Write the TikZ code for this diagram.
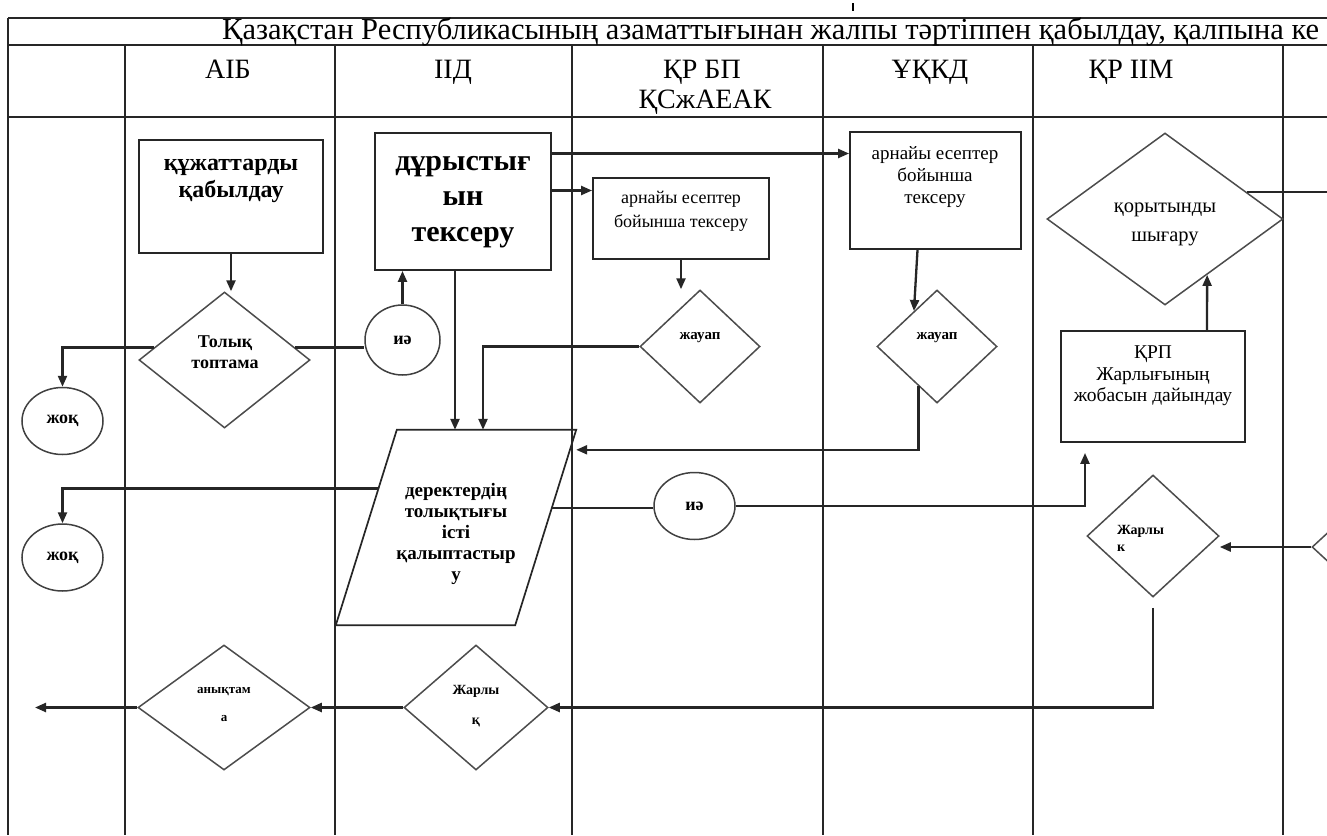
\documentclass[tikz,border=0pt]{standalone}
\usepackage{fontspec}
\setmainfont{Liberation Serif}
\usetikzlibrary{shapes.geometric,arrows.meta,calc}

\begin{document}
\begin{tikzpicture}[
    x=1pt, y=-1pt, >={Triangle[length=11pt,width=9pt]},
    every node/.style={align=center, inner sep=0pt},
    grid/.style={line width=1.8pt, black!85},
    link/.style={line width=2.3pt, black!85},
    box/.style={draw=black!85, line width=1.9pt, rectangle},
    dia/.style={draw=black!70, line width=1.5pt, diamond},
    oval/.style={draw=black!75, line width=1.5pt, ellipse},
    para/.style={draw=black!85, line width=1.7pt, line join=miter},
    head/.style={font=\fontsize{28}{30}\selectfont},
    tdocs/.style={font=\bfseries\fontsize{24}{27}\selectfont},
    tchk/.style={font=\bfseries\fontsize{30}{35.5}\selectfont},
    tnorm/.style={font=\fontsize{18}{24}\selectfont},
    tbold/.style={font=\bfseries\fontsize{18}{21}\selectfont},
    tsmall/.style={font=\bfseries\fontsize{14}{17}\selectfont}
]
\useasboundingbox (0,0) rectangle (1327,835);
\fill[white] (0,0) rectangle (1327,835);
\clip (0,0) rectangle (1327,835);

% table
\draw[grid] (8,18) -- (1327,18) (8,45) -- (1327,45) (8,117) -- (1327,117);
\draw[grid] (8,18) -- (8,835);
\foreach \x in {125,335,572,823,1033,1283}
    \draw[grid] (\x,45) -- (\x,835);
\draw[line width=2.5pt] (853,3) -- (853,11);

\node[head, font=\fontsize{30.5}{32}\selectfont, anchor=base west] (title) at (222,39)
    {Қазақстан Республикасының азаматтығынан жалпы тәртіппен қабылдау, қалпына ке};
\node[head, anchor=base] (hAIB) at (228,78) {АІБ};
\node[head, anchor=base] (hIID) at (453,78) {ІІД};
\node[head, anchor=base] (hBP) at (702,78) {ҚР БП};
\node[head, anchor=base] (hBP2) at (705,108) {ҚСжАЕАК};
\node[head, anchor=base] (hUKD) at (930,78) {ҰҚКД};
\node[head, anchor=base] (hIIM) at (1131,78) {ҚР ІІМ};

% shapes
\node[box, minimum width=184, minimum height=113] (docs) at (231,196.5) {};
\node[tdocs] (docsT) at (231,181) {құжаттарды\\қабылдау};
\node[box, minimum width=176, minimum height=137] (chk) at (463,201.5) {};
\node[tchk] (chkT) at (463,202) {дұрыстығ\\ын\\тексеру};
\node[box, minimum width=176, minimum height=81] (bp) at (681,218.5) {};
\node[tnorm] (bpT) at (681,211) {арнайы есептер\\бойынша тексеру};
\node[box, minimum width=171, minimum height=117] (uk) at (935.5,190.5) {};
\node[tnorm, font=\fontsize{19}{22}\selectfont] (ukT) at (935,177)
    {арнайы есептер\\бойынша\\тексеру};
\node[dia, minimum width=236, minimum height=172] (res) at (1165,219) {};
\node[tnorm, font=\fontsize{20.5}{29}\selectfont] (resT) at (1165,224) {қорытынды\\шығару};
\node[box, minimum width=184, minimum height=111] (krp) at (1153,386.5) {};
\node[tnorm, font=\fontsize{19.5}{21.5}\selectfont] (krpT) at (1153,376)
    {ҚРП\\Жарлығының\\жобасын дайындау};

\node[dia, minimum width=171, minimum height=136] (tol) at (224.5,360) {};
\node[tbold] (tolT) at (225,352) {Толық\\топтама};
\node[oval, minimum width=75, minimum height=70, tbold] (yes1) at (402.5,340) {иә};
\node[oval, minimum width=81, minimum height=67, tbold] (no1) at (62.5,421) {жоқ};
\node[oval, minimum width=81, minimum height=67, tbold] (no2) at (62.5,557.5) {жоқ};
\node[dia, minimum width=120, minimum height=113] (ans1) at (700,346.5) {};
\node[tbold, font=\bfseries\fontsize{15}{18}\selectfont] (ans1T) at (700,338) {жауап};
\node[dia, minimum width=120, minimum height=113] (ans2) at (937,346.5) {};
\node[tbold, font=\bfseries\fontsize{15}{18}\selectfont] (ans2T) at (937,338) {жауап};

\node[minimum width=240, minimum height=195] (der) at (456,527.5) {};
\coordinate (derTL) at ([xshift=61]der.north west);
\coordinate (derBR) at ([xshift=-61]der.south east);
\coordinate (derL) at ($(derTL)!0.3!(der.south west)$);
\coordinate (derR) at ($(der.north east)!0.4!(derBR)$);
\draw[para] (derTL) -- (der.north east) -- (derBR) -- (der.south west) -- cycle;
\node[tbold, font=\bfseries\fontsize{19}{21}\selectfont] (derT) at (456,534)
    {деректердің\\толықтығы\\істі\\қалыптастыр\\у};
\node[oval, minimum width=81, minimum height=67, tbold] (yes2) at (694.5,506) {иә};

\node[dia, minimum width=132, minimum height=122] (jar1) at (1153,536) {};
\node[tsmall, align=left, anchor=west] (jar1T) at (1117,538) {Жарлы\\к};
\node[dia, minimum width=132, minimum height=122] (nxt) at (1378,547) {};
\node[dia, minimum width=144, minimum height=125] (jar2) at (476,707.5) {};
\node[tsmall, font=\bfseries\fontsize{14}{30}\selectfont] (jar2T) at (476,706) {Жарлы\\қ};
\node[dia, minimum width=172, minimum height=125] (ana) at (224,707.5) {};
\node[tsmall, font=\bfseries\fontsize{13}{28}\selectfont] (anaT) at (224,705) {анықтам\\а};

\coordinate (out) at (35,707.5);
\coordinate (offR) at (1340,0);

% connectors
\draw[link,->] (docs.south) -- (docs.south |- tol.north);
\draw[link] (tol.10) -- (tol.10 -| yes1.west);
\draw[link,->] (tol.170) -| (no1);
\draw[link,->] (yes1.north) -- (yes1.north |- chk.south);
\draw[link,->] ([yshift=48]chk.east) -- ([yshift=48]chk.east -| uk.west);
\draw[link,->] ([yshift=11]chk.east) -- ([yshift=11]chk.east -| bp.west);
\draw[link,->] ([xshift=-8]chk.south) -- ([xshift=-8]chk.south |- der.north);
\draw[link,->] (bp.south) -- (bp.south |- ans1.north);
\draw[link,->] (ans1.west) -| ([xshift=27]der.north);
\draw[link,->] ([xshift=-18]uk.south) -- (ans2.123);
\draw[link,->] (ans2.-115) |- ([yshift=-20]der.north east);
\draw[link,->] (derL) -| (no2);
\draw[link] (derR) -- (derR -| yes2.west);
\draw[link,->] (yes2.east) -| ([xshift=-68,yshift=-10]krp.south);
\draw[link,->] ([xshift=54]krp.north) -- (res.-53);
\draw[link] (res.18) -- (res.18 -| offR);
\draw[link,->] (nxt.west) -- (nxt.west -| jar1.east);
\draw[link,->] ([yshift=-10]jar1.south) |- (jar2.east);
\draw[link,->] (jar2.west) -- (ana.east);
\draw[link,->] (ana.west) -- (out);
\end{tikzpicture}
\end{document}
